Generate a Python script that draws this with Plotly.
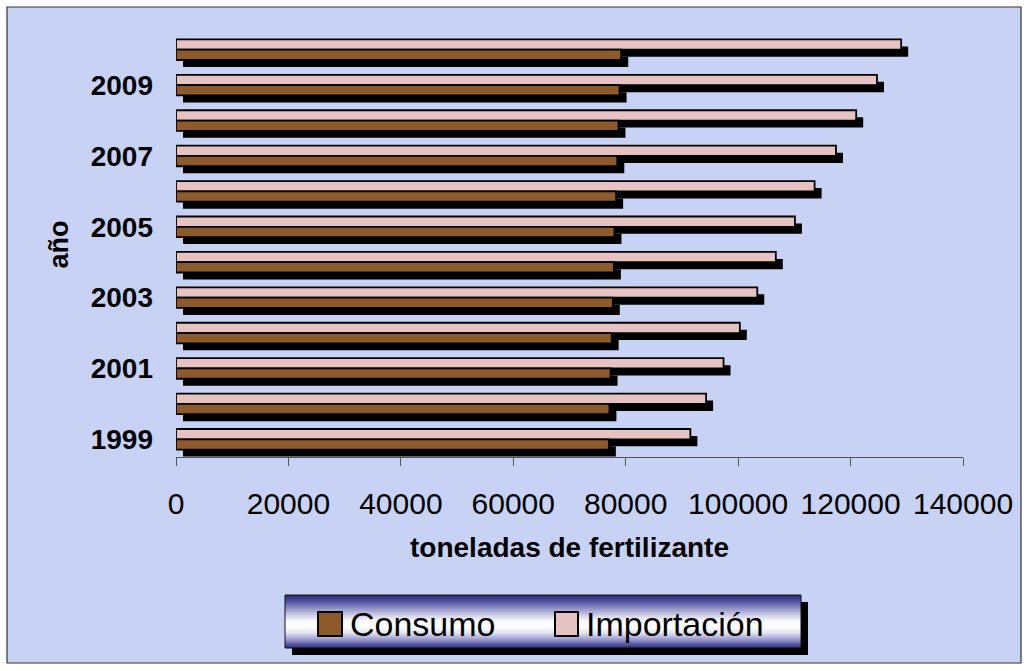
import plotly.graph_objects as go

# ---------------- data ----------------
years = [1999, 2000, 2001, 2002, 2003, 2004, 2005, 2006, 2007, 2008, 2009, 2010]
consumo = [77000, 77100, 77300, 77500, 77700, 77900, 78000, 78300, 78500, 78700, 78900, 79200]
importacion = [91500, 94300, 97400, 100300, 103400, 106700, 110100, 113600, 117400, 121000, 124700, 129000]
series_names = ["Consumo", "Importación"]
year_ticks = [1999, 2001, 2003, 2005, 2007, 2009]
x_ticks = [0, 20000, 40000, 60000, 80000, 100000, 120000, 140000]

# ---------------- geometry / style ----------------
W, H = 1029, 671
ML, MR, MT, MB = 176, 66, 32, 214
PW, PH = W - ML - MR, H - MT - MB
XMAX = 140000
YR = (1998.5, 2010.5)

FONT = "Liberation Sans, Arial, sans-serif"
PINK = "#e6c2c2"
BROWN = "#8d5a2b"
BG = "#c8d2f4"

bar_w = 10.3 * (YR[1] - YR[0]) / PH          # bar thickness in year units
sh_dy = 7 * (YR[1] - YR[0]) / PH             # shadow vertical offset
sh_dx = 7 * XMAX / PW                        # shadow horizontal offset


def px(x):
    return (x - ML) / PW


def py(y):
    return (H - MB - y) / PH


fig = go.Figure()

# shadows
fig.add_trace(go.Bar(orientation="h", y=years, x=importacion, base=sh_dx,
                     width=bar_w, offset=-sh_dy, marker_color="black",
                     marker_line_width=0, showlegend=False, hoverinfo="skip"))
fig.add_trace(go.Bar(orientation="h", y=years, x=consumo, base=sh_dx,
                     width=bar_w, offset=-bar_w - sh_dy, marker_color="black",
                     marker_line_width=0, showlegend=False, hoverinfo="skip"))
# bars
fig.add_trace(go.Bar(orientation="h", y=years, x=importacion, name=series_names[1],
                     width=bar_w, offset=0, marker_color=PINK,
                     marker_line_color="black", marker_line_width=1.8, showlegend=False))
fig.add_trace(go.Bar(orientation="h", y=years, x=consumo, name=series_names[0],
                     width=bar_w, offset=-bar_w, marker_color=BROWN,
                     marker_line_color="black", marker_line_width=1.8, showlegend=False))

shapes = []
# chart area background + border
shapes.append(dict(type="rect", xref="paper", yref="paper", layer="below",
                   x0=px(7), x1=px(1021), y0=py(663), y1=py(7),
                   fillcolor=BG, line=dict(color="#333333", width=1.2)))

# legend box shadow
shapes.append(dict(type="rect", xref="paper", yref="paper",
                   x0=px(292), x1=px(808), y0=py(655), y1=py(602),
                   fillcolor="black", line=dict(width=0)))

# legend gradient (navy - white - navy)
stops = [(595, (44, 44, 120)), (601, (78, 78, 156)), (608, (140, 140, 196)),
         (615, (205, 205, 232)), (621, (250, 250, 253)), (627, (255, 255, 255)),
         (633, (226, 226, 242)), (639, (160, 160, 208)), (644, (92, 92, 168)),
         (648, (44, 44, 120))]


def col_at(y):
    for (y0, c0), (y1, c1) in zip(stops[:-1], stops[1:]):
        if y0 <= y <= y1:
            t = (y - y0) / (y1 - y0)
            return "rgb(%d,%d,%d)" % tuple(round(a + (b - a) * t) for a, b in zip(c0, c1))
    return "rgb(44,44,120)"


for yy in range(595, 648):
    shapes.append(dict(type="rect", xref="paper", yref="paper",
                       x0=px(285), x1=px(801), y0=py(yy + 1), y1=py(yy),
                       fillcolor=col_at(yy + 0.5), line=dict(width=0)))
shapes.append(dict(type="rect", xref="paper", yref="paper",
                   x0=px(285), x1=px(801), y0=py(648), y1=py(595),
                   fillcolor="rgba(0,0,0,0)", line=dict(color="#111111", width=1)))

# legend symbols
shapes.append(dict(type="rect", xref="paper", yref="paper",
                   x0=px(318), x1=px(342), y0=py(636), y1=py(612),
                   fillcolor=BROWN, line=dict(color="black", width=2)))
shapes.append(dict(type="rect", xref="paper", yref="paper",
                   x0=px(555), x1=px(578), y0=py(636), y1=py(612),
                   fillcolor=PINK, line=dict(color="black", width=2)))

annotations = [
    dict(xref="paper", yref="paper", x=px(348), y=py(624), xanchor="left", yanchor="middle",
         text=series_names[0], showarrow=False, font=dict(family=FONT, size=34, color="black")),
    dict(xref="paper", yref="paper", x=px(584), y=py(624), xanchor="left", yanchor="middle",
         text=series_names[1], showarrow=False, font=dict(family=FONT, size=34, color="black")),
]

fig.update_layout(
    width=W, height=H, autosize=False,
    margin=dict(l=ML, r=MR, t=MT, b=MB, pad=0),
    paper_bgcolor="white", plot_bgcolor="rgba(0,0,0,0)",
    barmode="overlay", showlegend=False,
    font=dict(family=FONT, color="black"),
    shapes=shapes, annotations=annotations,
    xaxis=dict(range=[0, XMAX], tickvals=x_ticks, ticktext=[str(v) for v in x_ticks],
               showgrid=False, zeroline=False, showline=True, linecolor="#555555",
               linewidth=1.2, ticks="outside", ticklen=8, tickcolor="#555555",
               tickfont=dict(family=FONT, size=30, color="black"),
               ticklabelstandoff=12,
               title=dict(text="<b>toneladas de fertilizante</b>", standoff=18,
                          font=dict(family=FONT, size=28, color="black"))),
    yaxis=dict(range=list(YR), tickvals=year_ticks, ticktext=[str(v) for v in year_ticks],
               showgrid=False, zeroline=False, showline=False, ticks="",
               tickfont=dict(family=FONT, size=28, color="black", weight="bold"),
               ticklabelstandoff=22,
               title=dict(text="<b>año</b>", standoff=14,
                          font=dict(family=FONT, size=27, color="black"))),
)

fig.write_html("out.html")
